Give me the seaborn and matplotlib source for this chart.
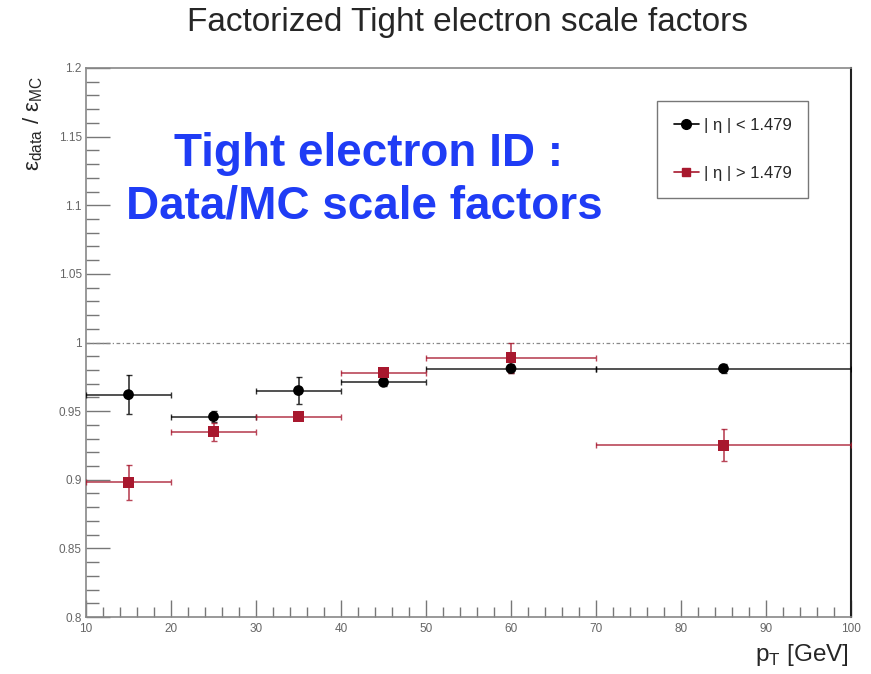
import matplotlib
matplotlib.use("Agg")
import matplotlib.pyplot as plt
import seaborn as sns
import pandas as pd
import numpy as np
from matplotlib.ticker import MultipleLocator
from matplotlib.lines import Line2D

# pT bins (GeV)
bin_lo = [10, 20, 30, 40, 50, 70]
bin_hi = [20, 30, 40, 50, 70, 100]
pt_center = [15, 25, 35, 45, 60, 85]

# Scale factors, barrel |eta| < 1.479
sf_barrel = [0.962, 0.946, 0.965, 0.971, 0.981, 0.981]
err_barrel = [0.014, 0.004, 0.010, 0.003, 0.003, 0.003]

# Scale factors, endcap |eta| > 1.479
sf_endcap = [0.898, 0.935, 0.946, 0.978, 0.989, 0.925]
err_endcap = [0.013, 0.0066, 0.002, 0.003, 0.011, 0.0117]

labels = ["| η | < 1.479", "| η | > 1.479"]
colors = ["#000000", "#a8182e"]
ytick_vals = [0.8, 0.85, 0.9, 0.95, 1.0, 1.05, 1.1, 1.15, 1.2]
ytick_text = ["0.8", "0.85", "0.9", "0.95", "1", "1.05", "1.1", "1.15", "1.2"]

sns.set_style("white")
plt.rcParams['font.family'] = ['Liberation Sans', 'DejaVu Sans']

df = pd.DataFrame({
    "pt": pt_center * 2,
    "sf": sf_barrel + sf_endcap,
    "region": [labels[0]] * 6 + [labels[1]] * 6,
})

fig = plt.figure(figsize=(8.71, 6.74), dpi=100)
ax = fig.add_axes([86 / 871, 1 - 617 / 674, (851 - 86) / 871, (617 - 68) / 674])

xerr_lo = np.array(pt_center) - np.array(bin_lo)
xerr_hi = np.array(bin_hi) - np.array(pt_center)

for sf, err, col, z in [(sf_barrel, err_barrel, colors[0], 3), (sf_endcap, err_endcap, colors[1], 4)]:
    ax.errorbar(pt_center, sf, xerr=[xerr_lo, xerr_hi], yerr=err, fmt="none",
                ecolor=col, elinewidth=1.2, capsize=2.5, capthick=1.0, alpha=0.8, zorder=z)

sns.scatterplot(data=df, x="pt", y="sf", hue="region", style="region",
                palette=colors, markers={labels[0]: "o", labels[1]: "s"},
                s=60, edgecolor="none", legend=False, ax=ax, zorder=5)

ax.axhline(1.0, color="#888888", lw=0.9, ls=(0, (3, 2, 1, 2)), zorder=1)

ax.set_xlim(10, 100)
ax.set_ylim(0.8, 1.2)
ax.xaxis.set_major_locator(MultipleLocator(10))
ax.xaxis.set_minor_locator(MultipleLocator(2))
ax.yaxis.set_minor_locator(MultipleLocator(0.01))
ax.set_yticks(ytick_vals)
ax.set_yticklabels(ytick_text)
ax.tick_params(axis="both", which="both", direction="in", colors="#777777",
               labelcolor="#666666", labelsize=8.5, bottom=True, left=True,
               top=False, right=False)
ax.tick_params(axis="y", which="major", length=17, width=1.0, pad=3)
ax.tick_params(axis="y", which="minor", length=9.5, width=1.0)
ax.tick_params(axis="x", which="major", length=12, width=1.0, pad=4)
ax.tick_params(axis="x", which="minor", length=7, width=1.0)
for side in ["left", "bottom", "top"]:
    ax.spines[side].set_color("#888888")
    ax.spines[side].set_linewidth(1.2)
ax.spines["right"].set_color("#222222")
ax.spines["right"].set_linewidth(1.5)
ax.set_xlabel("")
ax.set_ylabel("")

fig.text(467.5 / 871, 1 - 22 / 674, "Factorized Tight electron scale factors",
         ha="center", va="center", fontsize=24)
fig.text(849 / 871, 1 - 655 / 674, r"p$_{\mathregular{T}}$ [GeV]", ha="right", va="center", fontsize=17.5)
fig.text(33 / 871, 1 - 123 / 674, r"ε$_{\mathregular{data}}$ / ε$_{\mathregular{MC}}$",
         ha="center", va="center", rotation=90, fontsize=16)

ax.text(43.2, 1.137, "Tight electron ID :", ha="center", va="center",
        fontsize=33, fontweight="bold", color="#1f3cf5")
ax.text(42.8, 1.099, "Data/MC scale factors", ha="center", va="center",
        fontsize=33, fontweight="bold", color="#1f3cf5")

handles = [
    Line2D([0], [0], color=colors[0], marker="o", markersize=7, lw=1.2),
    Line2D([0], [0], color=colors[1], marker="s", markersize=6, lw=1.2),
]
leg = ax.legend(handles, labels, loc="upper left",
                bbox_to_anchor=((657 - 86) / 765, 1 - (101 - 68) / 549),
                frameon=True, fancybox=False, fontsize=12, handlelength=1.5,
                labelspacing=2.0, borderpad=1.0, handletextpad=0.3, borderaxespad=0)
leg.get_frame().set_edgecolor("#555555")
leg.get_frame().set_linewidth(1.0)

fig.savefig("out.png", dpi=100)
